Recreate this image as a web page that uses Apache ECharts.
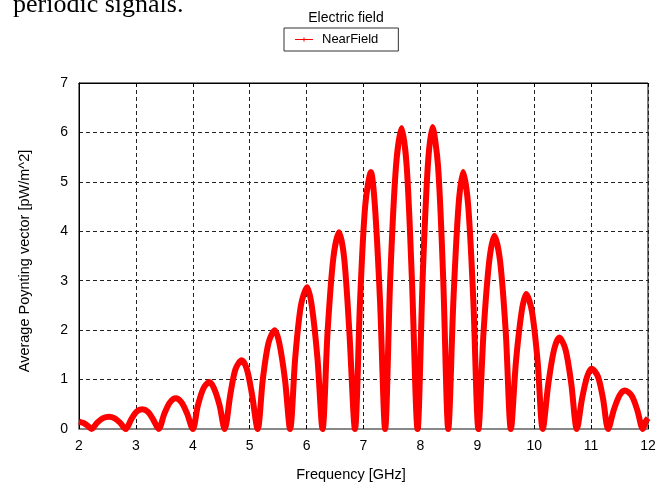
<!DOCTYPE html>
<html>
<head>
<meta charset="utf-8">
<script src="https://cdn.jsdelivr.net/npm/echarts@6/dist/echarts.min.js"></script>
<style>
  html, body { margin: 0; padding: 0; background: #fff; }
  #main { width: 666px; height: 487px; }
</style>
</head>
<body>
<div id="main"></div>
<script>
// frequency [GHz] and average Poynting vector [pW/m^2]
const freq = [
  2.00, 2.08, 2.15, 2.22,
  2.32, 2.42, 2.53, 2.62, 2.72, 2.82,
  2.92, 3.01, 3.11, 3.21, 3.30, 3.40,
  3.50, 3.60, 3.70, 3.80, 3.90, 4.00,
  4.09, 4.19, 4.29, 4.37, 4.47, 4.56,
  4.66, 4.75, 4.86, 4.95, 5.04, 5.14,
  5.23, 5.33, 5.44, 5.52, 5.62, 5.71,
  5.80, 5.90, 6.01, 6.09, 6.19, 6.28,
  6.37, 6.47, 6.57, 6.66, 6.75, 6.85,
  6.94, 7.03, 7.13, 7.20, 7.29, 7.38,
  7.47, 7.57, 7.67, 7.76, 7.85, 7.95,
  8.04, 8.13, 8.21, 8.31, 8.40, 8.49,
  8.58, 8.67, 8.75, 8.84, 8.93, 9.02,
  9.11, 9.21, 9.30, 9.40, 9.50, 9.59,
  9.68, 9.78, 9.86, 9.96, 10.06, 10.15,
  10.25, 10.35, 10.44, 10.55, 10.65, 10.75,
  10.84, 10.93, 11.01, 11.12, 11.21, 11.30,
  11.40, 11.50, 11.59, 11.71, 11.81, 11.91,
  11.96, 12.00
];
const nearField = [
  0.15, 0.12, 0.07, 0,
  0.13, 0.22, 0.25, 0.22, 0.13, 0,
  0.20, 0.35, 0.40, 0.35, 0.20, 0,
  0.31, 0.54, 0.62, 0.54, 0.31, 0,
  0.48, 0.83, 0.95, 0.83, 0.48, 0,
  0.70, 1.21, 1.39, 1.21, 0.70, 0,
  1.00, 1.74, 2.00, 1.74, 1.00, 0,
  1.44, 2.50, 2.87, 2.50, 1.44, 0,
  1.99, 3.46, 3.98, 3.46, 1.99, 0,
  2.60, 4.52, 5.20, 4.52, 2.60, 0,
  3.05, 5.30, 6.09, 5.30, 3.05, 0,
  3.06, 5.32, 6.11, 5.32, 3.06, 0,
  2.60, 4.52, 5.20, 4.52, 2.60, 0,
  1.96, 3.40, 3.91, 3.40, 1.96, 0,
  1.37, 2.38, 2.73, 2.38, 1.37, 0,
  0.93, 1.61, 1.85, 1.61, 0.93, 0,
  0.61, 1.06, 1.22, 1.06, 0.61, 0,
  0.39, 0.68, 0.78, 0.68, 0.39, 0,
  0.15, 0.22
];

const FONT = 'Liberation Sans';
const chart = echarts.init(document.getElementById('main'));

chart.setOption({
  animation: false,
  backgroundColor: '#fff',
  title: {
    text: 'Electric field',
    left: 341,
    top: 6,
    textAlign: 'center',
    textStyle: { fontFamily: FONT, fontSize: 14, fontWeight: 'normal', color: '#000' }
  },
  legend: {
    left: 284,
    top: 28,
    padding: [5, 20, 5, 11],
    itemWidth: 18,
    itemHeight: 10,
    borderColor: '#333',
    borderWidth: 1,
    icon: 'path://M0,4.5 L18,4.5 L18,5.5 L0,5.5 Z M8.5,3 L9.5,3 L9.5,7 L8.5,7 Z',
    itemStyle: { color: '#ff0000' },
    textStyle: { fontFamily: FONT, fontSize: 13, color: '#000', padding: [0, 0, 0, 4] },
    data: ['NearField']
  },
  graphic: [{
    type: 'text',
    x: 13,
    y: 5,
    style: {
      text: 'periodic signals.',
      font: '26px "Liberation Serif"',
      fill: '#000',
      verticalAlign: 'middle'
    }
  }],
  grid: {
    left: 79, right: 18, top: 83, bottom: 56,
    show: true, borderColor: '#000', borderWidth: 1
  },
  xAxis: [{
    type: 'value',
    min: 2, max: 12, interval: 1,
    name: 'Frequency [GHz]',
    nameLocation: 'middle',
    nameGap: 38,
    nameTextStyle: { fontFamily: FONT, fontSize: 14.5, color: '#000', padding: [0, 25, 0, 0] },
    axisLine: { show: true, lineStyle: { color: '#888', width: 2 } },
    axisTick: { show: true, inside: true, length: 4, lineStyle: { color: '#000' } },
    axisLabel: { fontFamily: FONT, fontSize: 14, color: '#000', margin: 10 },
    splitLine: { show: true, lineStyle: { color: '#222', type: [4, 3], width: 1 } }
  }, {
    type: 'value',
    position: 'top',
    min: 2, max: 12, interval: 1,
    axisLine: { show: true, lineStyle: { color: '#000', width: 1 } },
    axisTick: { show: true, inside: true, length: 4, lineStyle: { color: '#000' } },
    axisLabel: { show: false },
    splitLine: { show: false }
  }],
  yAxis: {
    type: 'value',
    min: 0, max: 7, interval: 1,
    name: 'Average Poynting vector [pW/m^2]',
    nameLocation: 'middle',
    nameGap: 47,
    nameRotate: 90,
    nameTextStyle: { fontFamily: FONT, fontSize: 14.5, color: '#000', padding: [0, 10, 0, 0] },
    axisLine: { show: true, lineStyle: { color: '#000', width: 1 } },
    axisTick: { show: false },
    axisLabel: { fontFamily: FONT, fontSize: 14, color: '#000', margin: 11, padding: [0, 0, 6, 0] },
    splitLine: { show: true, lineStyle: { color: '#222', type: [4, 3], width: 1 } }
  },
  series: [{
    name: 'NearField',
    type: 'line',
    data: freq.map((f, i) => [f, nearField[i]]),
    smooth: 0.3,
    symbol: 'none',
    lineStyle: { color: '#ff0000', width: 6 },
    itemStyle: { color: '#ff0000' }
  }]
});
</script>
</body>
</html>
